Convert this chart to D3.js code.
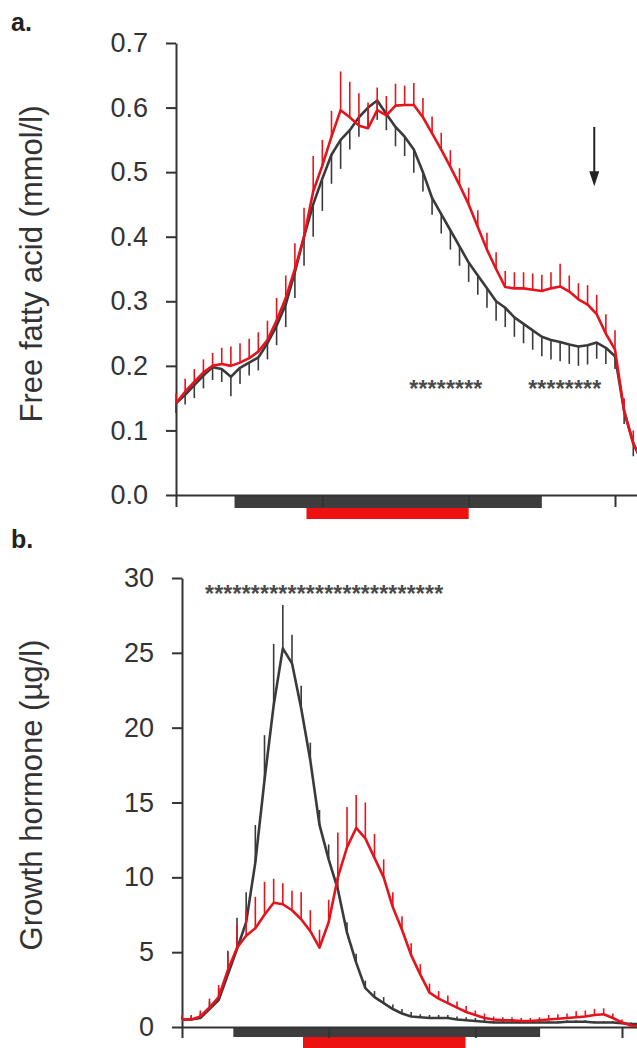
<!DOCTYPE html>
<html>
<head>
<meta charset="utf-8">
<script src="https://cdn.jsdelivr.net/npm/d3@7"></script>
<style>
  body { margin: 0; background: #fff; }
  svg { display: block; font-family: "Liberation Sans", Arial, sans-serif; }
</style>
</head>
<body>
<svg id="chart" width="637" height="1048"></svg>
<script>
// one sample every 7.5 min, x ticks every 120 min (no labels)
var step = 7.5;
var xTicks = [0, 120, 240, 360];

// a. free fatty acid (mmol/l), mean and SEM per sample
var ffaDark = [0.142, 0.155, 0.170, 0.185, 0.198, 0.195, 0.183, 0.197, 0.205, 0.213,
  0.235, 0.262, 0.295, 0.345, 0.40, 0.45, 0.49, 0.527, 0.55, 0.565,
  0.585, 0.60, 0.611, 0.59, 0.57, 0.555, 0.535, 0.50, 0.46, 0.435,
  0.41, 0.385, 0.36, 0.34, 0.32, 0.30, 0.29, 0.275, 0.265, 0.255,
  0.245, 0.24, 0.237, 0.233, 0.23, 0.232, 0.236, 0.228, 0.215, 0.13,
  0.08, 0.05];
var ffaDarkSem = [0.015, 0.015, 0.02, 0.02, 0.02, 0.02, 0.03, 0.025, 0.02, 0.02,
  0.025, 0.03, 0.035, 0.04, 0.045, 0.05, 0.05, 0.045, 0.045, 0.03,
  0.03, 0.03, 0.03, 0.025, 0.03, 0.03, 0.036, 0.03, 0.026, 0.03,
  0.03, 0.03, 0.03, 0.03, 0.03, 0.03, 0.03, 0.03, 0.03, 0.03,
  0.03, 0.03, 0.03, 0.03, 0.03, 0.03, 0.025, 0.025, 0.02, 0.02,
  0.02, 0.02];
var ffaRed = [0.142, 0.16, 0.175, 0.19, 0.20, 0.203, 0.20, 0.205, 0.212, 0.222,
  0.24, 0.27, 0.305, 0.35, 0.40, 0.47, 0.51, 0.555, 0.596, 0.585,
  0.572, 0.568, 0.596, 0.588, 0.603, 0.604, 0.604, 0.585, 0.56, 0.535,
  0.508, 0.48, 0.45, 0.415, 0.38, 0.35, 0.322, 0.32, 0.32, 0.318,
  0.316, 0.32, 0.323, 0.315, 0.303, 0.295, 0.28, 0.25, 0.225, 0.13,
  0.08, 0.05];
var ffaRedSem = [0.015, 0.02, 0.02, 0.02, 0.02, 0.025, 0.03, 0.03, 0.03, 0.03,
  0.03, 0.035, 0.035, 0.04, 0.045, 0.055, 0.04, 0.04, 0.06, 0.055,
  0.05, 0.04, 0.035, 0.03, 0.034, 0.03, 0.034, 0.03, 0.026, 0.026,
  0.026, 0.026, 0.026, 0.026, 0.026, 0.026, 0.025, 0.025, 0.025, 0.025,
  0.025, 0.025, 0.035, 0.025, 0.025, 0.03, 0.03, 0.03, 0.03, 0.02,
  0.02, 0.02];
var ffaTicks = [0, 0.1, 0.2, 0.3, 0.4, 0.5, 0.6, 0.7];
var ffaStars = [26, 27, 28, 29, 30, 31, 32, 33, 39, 40, 41, 42, 43, 44, 45, 46];
var ffaBars = [{ from: 48, to: 300, color: '#3d3d3d' }, { from: 107, to: 240, color: '#ee1111' }];
var ffaArrow = { at: 343, from: 0.57, to: 0.478 };

// b. growth hormone (µg/l), mean and SEM per sample
var ghDark = [0.5, 0.5, 0.6, 1.2, 1.8, 3.5, 5.2, 7.0, 11.0, 16.5,
  21.5, 25.3, 24.3, 21.3, 17.8, 13.5, 11.2, 9.2, 6.3, 4.3,
  2.6, 2.0, 1.6, 1.2, 0.9, 0.7, 0.65, 0.6, 0.6, 0.6,
  0.5, 0.45, 0.4, 0.35, 0.3, 0.3, 0.3, 0.3, 0.3, 0.3,
  0.3, 0.3, 0.35, 0.35, 0.35, 0.3, 0.3, 0.3, 0.25, 0.2,
  0.2];
var ghDarkSem = [0.2, 0.2, 0.3, 0.5, 0.8, 1.6, 2.1, 2.0, 2.5, 3.0,
  4.1, 2.9, 1.9, 1.5, 1.2, 1.0, 1.0, 0.8, 0.7, 0.6,
  0.5, 0.4, 0.4, 0.3, 0.3, 0.3, 0.2, 0.2, 0.2, 0.2,
  0.2, 0.2, 0.2, 0.2, 0.1, 0.1, 0.1, 0.1, 0.1, 0.1,
  0.1, 0.1, 0.1, 0.1, 0.1, 0.1, 0.1, 0.1, 0.1, 0.1,
  0.1];
var ghRed = [0.5, 0.5, 0.7, 1.3, 2.0, 3.8, 5.3, 6.1, 6.6, 7.5,
  8.3, 8.2, 7.8, 7.2, 6.4, 5.3, 7.0, 10.0, 12.0, 13.3,
  12.6, 11.3, 10.0, 8.0, 6.5, 4.8, 3.5, 2.3, 1.9, 1.6,
  1.3, 1.0, 0.8, 0.6, 0.5, 0.45, 0.45, 0.4, 0.4, 0.45,
  0.5, 0.55, 0.6, 0.65, 0.7, 0.8, 0.85, 0.6, 0.3, 0.1,
  0.05];
var ghRedSem = [0.3, 0.3, 0.4, 0.6, 0.8, 1.2, 1.5, 1.7, 2.1, 2.2,
  1.6, 1.4, 1.3, 1.8, 1.4, 1.2, 1.5, 3.0, 2.7, 2.2,
  2.4, 1.6, 1.2, 1.0, 0.9, 0.8, 0.7, 0.6, 0.5, 0.5,
  0.4, 0.4, 0.3, 0.3, 0.2, 0.2, 0.2, 0.2, 0.2, 0.2,
  0.3, 0.3, 0.3, 0.4, 0.4, 0.4, 0.4, 0.3, 0.2, 0.1,
  0.1];
var ghTicks = [0, 5, 10, 15, 20, 25, 30];
var ghStars = d3.range(3, 29); // sample indices 3..28
var ghBars = [{ from: 42, to: 293, color: '#3d3d3d' }, { from: 99, to: 232, color: '#ee1111' }];

var darkColor = '#3a3a3a';
var redColor = '#e5141c';
var inkColor = '#333';

var svg = d3.select('#chart');

function drawPanel(cfg) {
  var g = svg.append('g');

  var x = d3.scaleLinear()
    .domain([0, 380])
    .range([cfg.x0, cfg.x0 + 380 * cfg.pxPerMin]);
  var y = d3.scaleLinear()
    .domain(cfg.yDomain)
    .range([cfg.yBottom, cfg.yTop]);

  // protocol bars under the x axis
  cfg.bars.forEach(function(b, i) {
    g.append('rect')
      .attr('x', x(b.from))
      .attr('y', cfg.yBottom + (i === 0 ? 0 : cfg.barH[0]))
      .attr('width', x(b.to) - x(b.from))
      .attr('height', cfg.barH[i])
      .attr('fill', b.color);
  });

  // axes
  var yAxis = d3.axisLeft(y)
    .tickValues(cfg.yTicks)
    .tickFormat(cfg.format)
    .tickSize(10)
    .tickSizeOuter(0)
    .tickPadding(18);
  var xAxis = d3.axisBottom(x)
    .tickValues(xTicks)
    .tickFormat('')
    .tickSize(cfg.xTickSize)
    .tickSizeOuter(0);

  g.append('g')
    .attr('transform', 'translate(0,' + cfg.yBottom + ')')
    .call(xAxis);
  g.append('g')
    .attr('transform', 'translate(' + cfg.x0 + ',0)')
    .call(yAxis);

  g.selectAll('.domain, .tick line')
    .attr('stroke', inkColor)
    .attr('stroke-width', 2);
  g.selectAll('.tick text')
    .attr('fill', inkColor)
    .style('font-size', '27px');

  // axis title
  g.append('text')
    .attr('transform', 'translate(42,' + cfg.titleY + ') rotate(-90)')
    .attr('text-anchor', 'middle')
    .attr('fill', inkColor)
    .style('font-size', '31px')
    .text(cfg.title);

  // panel letter
  g.append('text')
    .attr('x', 11)
    .attr('y', cfg.letterY)
    .attr('fill', '#222')
    .style('font-size', '25px')
    .style('font-weight', 'bold')
    .text(cfg.letter);

  // error bars then lines
  function series(values, sems, color, dir) {
    g.append('g').selectAll('line')
      .data(values)
      .enter().append('line')
      .attr('x1', function(d, i) { return x(i * step); })
      .attr('x2', function(d, i) { return x(i * step); })
      .attr('y1', function(d) { return y(d); })
      .attr('y2', function(d, i) { return y(d + dir * sems[i]); })
      .attr('stroke', color)
      .attr('stroke-width', 1.6);

    var line = d3.line()
      .x(function(d, i) { return x(i * step); })
      .y(function(d) { return y(d); });

    g.append('path')
      .datum(values)
      .attr('d', line)
      .attr('fill', 'none')
      .attr('stroke', color)
      .attr('stroke-width', 2.6)
      .attr('stroke-linejoin', 'round');
  }
  series(cfg.dark, cfg.darkSem, darkColor, cfg.darkDir);
  series(cfg.red, cfg.redSem, redColor, 1);

  // significance asterisks
  g.append('g').selectAll('text')
    .data(cfg.stars)
    .enter().append('text')
    .attr('x', function(d) { return x(d * step); })
    .attr('y', y(cfg.starValue))
    .attr('dy', '0.6em')
    .attr('text-anchor', 'middle')
    .attr('fill', '#4a4a4a')
    .style('font-size', '23px')
    .style('font-weight', 'bold')
    .text('*');

  return { x: x, y: y, g: g };
}

var a = drawPanel({
  x0: 176, pxPerMin: 439 / 360,
  yDomain: [0, 0.7], yBottom: 495, yTop: 43,
  yTicks: ffaTicks, format: d3.format('.1f'),
  xTickSize: 12, barH: [13, 11],
  bars: ffaBars,
  title: 'Free fatty acid (mmol/l)', titleY: 264,
  letter: 'a.', letterY: 31,
  dark: ffaDark, darkSem: ffaDarkSem, darkDir: -1,
  red: ffaRed, redSem: ffaRedSem,
  stars: ffaStars, starValue: 0.173
});

drawPanel({
  x0: 182, pxPerMin: 440 / 360,
  yDomain: [0, 30], yBottom: 1027, yTop: 578,
  yTicks: ghTicks, format: d3.format('d'),
  xTickSize: 11, barH: [10, 11],
  bars: ghBars,
  title: 'Growth hormone (µg/l)', titleY: 795,
  letter: 'b.', letterY: 548,
  dark: ghDark, darkSem: ghDarkSem, darkDir: 1,
  red: ghRed, redSem: ghRedSem,
  stars: ghStars, starValue: 29.3
});

// arrow in panel a
var ax = a.x(ffaArrow.at);
a.g.append('line')
  .attr('x1', ax).attr('x2', ax)
  .attr('y1', a.y(ffaArrow.from))
  .attr('y2', a.y(ffaArrow.to) - 12)
  .attr('stroke', '#222')
  .attr('stroke-width', 2);
a.g.append('path')
  .attr('d', 'M' + (ax - 5) + ',' + (a.y(ffaArrow.to) - 15) +
    'L' + (ax + 5) + ',' + (a.y(ffaArrow.to) - 15) +
    'L' + ax + ',' + a.y(ffaArrow.to) + 'Z')
  .attr('fill', '#222');
</script>
</body>
</html>
